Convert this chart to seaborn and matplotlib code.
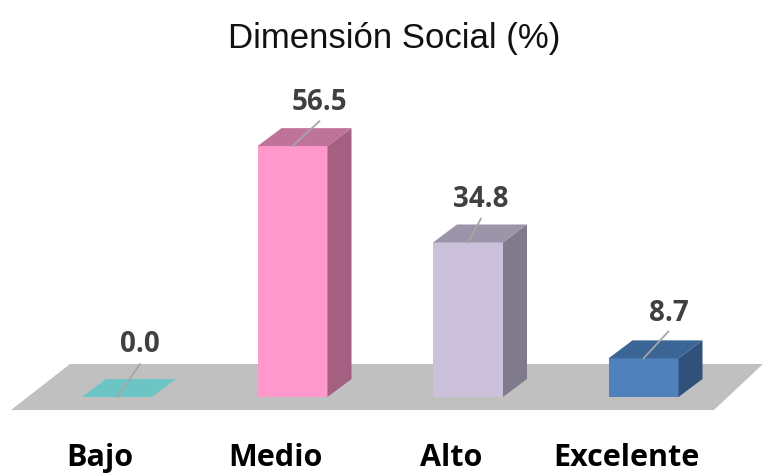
import matplotlib
matplotlib.use('Agg')
import matplotlib.pyplot as plt
import seaborn as sns
from matplotlib.patches import Polygon

categories = ['Bajo', 'Medio', 'Alto', 'Excelente']
values = [0.0, 56.5, 34.8, 8.7]
front_colors = ['#6CC4C4', '#FF99CC', '#CCC1DA', '#4F81BD']
top_colors = ['#6CC4C4', '#BF7399', '#9C94A8', '#3B6594']
side_colors = ['#6CC4C4', '#A36080', '#807B8C', '#30527A']

sns.set_theme(style='white')
plt.rcParams['font.family'] = ['Open Sans', 'DejaVu Sans']

# one slot is 175.5 px wide, one percent is 4.44 px high
slot = 175.5
unit = 4.44
px_x = lambda p: p / slot
px_y = lambda p: p / unit

fig = plt.figure(figsize=(7.63, 4.73), dpi=100)
ax = fig.add_axes([0, 0, 1, 1])

df = {'cat': categories, 'val': values}
sns.barplot(data=df, x='cat', y='val', hue='cat', palette=front_colors, legend=False,
            width=70 / slot, saturation=1, linewidth=0, edgecolor='none', ax=ax, zorder=3)

ax.set_xlim(px_x(-117), px_x(763 - 117))
ax.set_ylim(px_y(397 - 473), px_y(397))
ax.axis('off')

# grey floor under the bars
floor = [(px_x(11 - 117), px_y(-13)), (px_x(714 - 117), px_y(-13)),
         (px_x(763 - 117), px_y(33)), (px_x(70 - 117), px_y(33))]
ax.add_patch(Polygon(floor, closed=True, fc='#C0C0C0', ec='none', zorder=1))

# fake 3d sides from the bar rectangles
dx = px_x(24)
dy = px_y(18)
half = px_x(35)
for i, v in enumerate(values):
    l, r = i - half, i + half
    ax.add_patch(Polygon([(l, v), (r, v), (r + dx, v + dy), (l + dx, v + dy)],
                         closed=True, fc=top_colors[i], ec='none', zorder=4))
    if v > 0:
        ax.add_patch(Polygon([(r, 0), (r + dx, dy), (r + dx, v + dy), (r, v)],
                             closed=True, fc=side_colors[i], ec='none', zorder=4))

# leader lines and value labels, offsets in px
leader = [(23, 33), (27, 25), (13, 24), (25, 27)]
label_y = [20, 19, 19, 18]
for i, v in enumerate(values):
    lx, ly = leader[i]
    ax.plot([i, i + px_x(lx)], [v, v + px_y(ly)], color='#A6A6A6', lw=1.3, zorder=5)
    ax.text(i + px_x(lx), v + px_y(ly + label_y[i]), f'{v:.1f}', ha='center', va='center',
            fontsize=20, fontweight='bold', color='#404040', zorder=6)

for i, c in enumerate(categories):
    ax.text(i - px_x(17), px_y(397 - 458), c, ha='center', va='center',
            fontsize=22, fontweight='bold', color='black')

ax.text(px_x(394 - 117), px_y(397 - 38), 'Dimensión Social (%)', ha='center', va='center',
        fontsize=25, color='#111111', family=['Liberation Sans Narrow', 'Liberation Sans'])

fig.savefig('out.png', dpi=100)
